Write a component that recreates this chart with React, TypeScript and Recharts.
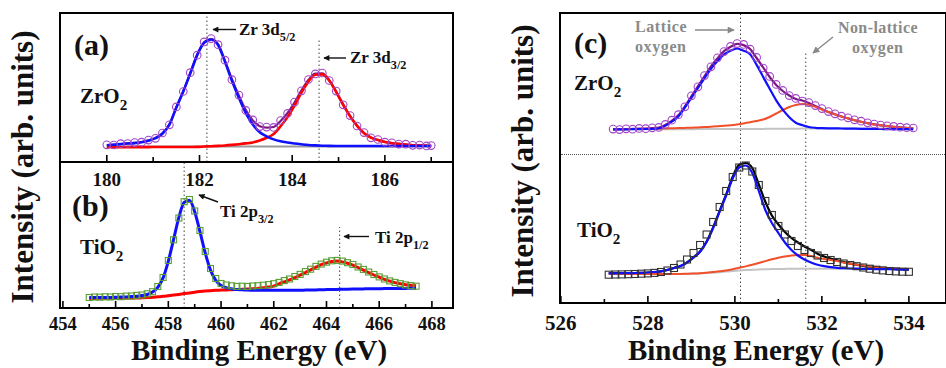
import { ComposedChart, Line, XAxis, YAxis, ReferenceLine } from "recharts";

const SERIF = '"Liberation Serif", "Times New Roman", serif';

// (a) Zr 3d, ZrO2
const zrEnergy = [180, 180.15, 180.3, 180.45, 180.6, 180.75, 180.9, 181.05, 181.2, 181.35, 181.5, 181.65, 181.8, 181.95, 182.1, 182.25, 182.4, 182.55, 182.7, 182.85, 183, 183.15, 183.3, 183.45, 183.6, 183.75, 183.9, 184.05, 184.2, 184.35, 184.5, 184.65, 184.8, 184.95, 185.1, 185.25, 185.4, 185.55, 185.7, 185.85, 186, 186.15, 186.3, 186.45, 186.6, 186.75, 186.9, 187];
const zrCounts = [17.2, 17.0, 18.3, 18.5, 19.4, 19.8, 21.9, 23.7, 29.0, 37.2, 55.1, 70.5, 89.3, 106.8, 120.1, 123.4, 117.3, 101.8, 82.3, 66.9, 51.6, 42.1, 35.4, 34.9, 34.6, 41.5, 48.6, 59.9, 71.2, 82.5, 88.1, 89.0, 81.5, 70.9, 57.2, 46.4, 36.0, 29.4, 24.2, 22.5, 19.8, 19.2, 17.9, 17.8, 16.7, 16.9, 16.1, 16.4];
const zrFit52 = [16.8, 17.2, 17.9, 18.5, 18.9, 19.8, 21.3, 23.8, 28.3, 37.3, 54.4, 70.6, 88.5, 106.9, 119.2, 122.5, 117.0, 100.2, 81.2, 64.1, 48.8, 37.5, 29.8, 25.7, 22.6, 20.7, 19.5, 18.5, 17.7, 17.0, 16.6, 16.3, 16.1, 16.0, 16.0, 16.0, 16.0, 16.0, 16.0, 16.0, 16.0, 16.0, 16.0, 16.0, 16.0, 16.0, 16.0, 16.0];
const zrFit32 = [14.8, 14.8, 14.8, 14.85, 14.85, 14.9, 14.9, 14.95, 14.95, 15.0, 15.0, 15.0, 15.05, 15.1, 15.5, 15.8, 16.1, 16.5, 17.1, 17.8, 18.6, 19.6, 21.5, 24.2, 27.9, 35.7, 44.9, 56.4, 69.3, 80.4, 87.3, 87.6, 81.3, 69.9, 57.2, 45.7, 36.1, 28.8, 24.4, 21.9, 19.9, 18.8, 18.1, 17.4, 16.8, 16.5, 16.2, 16.0];
const zrEnvelope = [17.0, 17.3, 18.0, 18.7, 19.1, 20.0, 21.6, 24.0, 28.6, 37.6, 54.7, 70.9, 88.8, 107.2, 119.6, 123.0, 117.8, 101.2, 82.8, 66.4, 52.0, 41.6, 35.8, 34.4, 35.0, 41.0, 49.0, 59.5, 71.6, 82.0, 88.5, 88.6, 81.9, 70.4, 57.6, 46.0, 36.4, 29.0, 24.6, 22.1, 20.1, 18.9, 18.2, 17.5, 16.9, 16.6, 16.3, 16.1];
const zrBaseline = 15.6;
const zrTicks = [180, 181, 182, 183, 184, 185, 186, 187];
const zrTickLabels = [180, 182, 184, 186];

// (b) Ti 2p, TiO2
const tiEnergy = [455, 455.2, 455.4, 455.6, 455.8, 456, 456.2, 456.4, 456.6, 456.8, 457, 457.2, 457.4, 457.6, 457.8, 458, 458.2, 458.4, 458.6, 458.8, 459, 459.2, 459.4, 459.6, 459.8, 460, 460.2, 460.4, 460.6, 460.8, 461, 461.2, 461.4, 461.6, 461.8, 462, 462.2, 462.4, 462.6, 462.8, 463, 463.2, 463.4, 463.6, 463.8, 464, 464.2, 464.4, 464.6, 464.8, 465, 465.2, 465.4, 465.6, 465.8, 466, 466.2, 466.4, 466.6, 466.8, 467, 467.2, 467.4];
const tiCounts = [10.5, 11.0, 10.8, 11.2, 11.0, 11.5, 11.3, 11.9, 12.0, 12.6, 13.0, 14.2, 16.3, 21.5, 30.5, 47.5, 68.2, 90.0, 106.3, 108.5, 97.0, 77.5, 56.5, 39.5, 29.5, 24.5, 23.0, 22.2, 21.6, 21.8, 21.5, 22.0, 22.3, 22.8, 23.4, 24.3, 25.6, 27.4, 29.0, 31.5, 33.6, 36.4, 38.8, 41.6, 43.9, 45.8, 47.2, 47.6, 46.9, 45.3, 43.5, 41.0, 38.6, 36.0, 33.5, 31.1, 29.0, 27.1, 25.6, 24.3, 23.1, 22.4, 21.8];
const tiFit32 = [10.4, 10.4, 10.5, 10.6, 10.6, 10.8, 10.9, 11.1, 11.4, 11.8, 12.4, 13.5, 15.9, 20.7, 30.1, 46.9, 68.6, 90.7, 105.6, 107.8, 96.3, 76.3, 55.0, 37.9, 27.7, 22.5, 20.3, 19.2, 18.4, 18.2, 17.9, 17.8, 17.7, 17.7, 17.7, 17.7, 17.7, 17.8, 17.8, 17.8, 17.8, 17.9, 18.0, 18.1, 18.3, 18.4, 18.5, 18.6, 18.7, 18.8, 18.9, 19.0, 19.1, 19.2, 19.2, 19.3, 19.4, 19.4, 19.5, 19.5, 19.6, 19.7, 19.7];
const tiFit12 = [9.6, 9.6, 9.7, 9.7, 9.7, 9.8, 9.8, 9.9, 9.9, 10.0, 10.2, 10.4, 10.7, 11.2, 11.7, 12.3, 12.9, 13.6, 14.4, 15.1, 15.8, 16.4, 16.9, 17.3, 17.7, 17.9, 18.1, 18.35, 18.5, 18.7, 18.9, 19.2, 19.6, 20.2, 20.9, 21.9, 24.2, 26.05, 28.1, 30.45, 32.8, 35.5, 38.2, 40.8, 43.35, 45.05, 46.4, 47.0, 46.1, 44.7, 42.8, 40.4, 37.9, 35.45, 33.0, 30.8, 28.65, 26.9, 25.35, 24.2, 23.3, 22.75, 22.3];
const tiTicks = [454, 455, 456, 457, 458, 459, 460, 461, 462, 463, 464, 465, 466, 467, 468];
const tiTickLabels = [454, 456, 458, 460, 462, 464, 466, 468];

// (c) O 1s, upper ZrO2
const zrOxEnergy = [527.2, 527.35, 527.5, 527.65, 527.8, 527.95, 528.1, 528.25, 528.4, 528.55, 528.7, 528.85, 529, 529.15, 529.3, 529.45, 529.6, 529.75, 529.9, 530.05, 530.2, 530.35, 530.5, 530.65, 530.8, 530.95, 531.1, 531.25, 531.4, 531.55, 531.7, 531.85, 532, 532.15, 532.3, 532.45, 532.6, 532.75, 532.9, 533.05, 533.2, 533.35, 533.5, 533.65, 533.8, 533.95, 534.1];
const zrOxCounts = [25.9, 25.4, 26.2, 25.8, 26.6, 26.3, 27.2, 27.6, 30.6, 34.8, 40.3, 48.2, 59.2, 68.2, 79.4, 88.2, 97.2, 103.4, 108.6, 111.4, 110.6, 105.8, 97.6, 87.0, 78.6, 70.6, 64.6, 59.4, 56.6, 54.0, 52.4, 49.4, 46.4, 43.4, 41.2, 38.8, 37.2, 35.2, 33.8, 32.2, 31.0, 30.0, 29.2, 28.6, 27.8, 27.3, 27.0];
const zrOxLattice = [25.7, 25.7, 25.7, 25.8, 25.9, 26.0, 26.2, 26.6, 29.3, 33.3, 38.6, 47.3, 57.1, 66.9, 76.7, 86.2, 93.9, 100.6, 104.3, 106.5, 104.3, 100.7, 90.1, 78.1, 66.2, 54.7, 45.3, 37.8, 32.3, 29.9, 28.0, 27.2, 26.9, 26.7, 26.6, 26.5, 26.4, 26.3, 26.2, 26.1, 26.0, 26.0, 25.9, 25.9, 25.8, 25.8, 25.7];
const zrOxNonLattice = [25.7, 25.8, 25.9, 26.0, 26.1, 26.2, 26.3, 26.4, 26.5, 26.7, 26.9, 27.1, 27.3, 27.6, 27.9, 28.3, 28.7, 29.2, 29.8, 30.6, 31.6, 32.8, 34.0, 35.5, 38.0, 41.5, 45.0, 48.0, 50.0, 51.0, 50.3, 48.2, 45.5, 42.8, 40.7, 38.5, 36.6, 34.8, 33.2, 31.8, 30.6, 29.7, 28.9, 28.2, 27.6, 27.1, 26.7];
const zrOxEnvelope = [25.7, 25.8, 25.9, 26.1, 26.3, 26.5, 26.8, 27.3, 30.0, 34.2, 39.7, 48.6, 58.6, 68.6, 78.7, 88.6, 96.7, 103.8, 108.1, 111.1, 109.9, 106.0, 97.0, 87.5, 78.0, 70.0, 64.0, 59.5, 56.0, 54.5, 51.9, 49.0, 45.9, 42.9, 40.8, 38.5, 36.6, 34.8, 33.2, 31.8, 30.6, 29.7, 28.9, 28.2, 27.6, 27.1, 26.7];
const zrOxBackground = [25.7, 25.7, 25.7, 25.7, 25.7, 25.7, 25.7, 25.7, 25.8, 25.8, 25.8, 25.8, 25.8, 25.9, 25.9, 25.9, 25.9, 26.0, 26.0, 26.0, 26.0, 26.1, 26.1, 26.1, 26.2, 26.2, 26.3, 26.3, 26.3, 26.4, 26.4, 26.4, 26.5, 26.5, 26.5, 26.5, 26.5, 26.5, 26.5, 26.5, 26.5, 26.5, 26.5, 26.5, 26.5, 26.5, 26.5];

// (c) O 1s, lower TiO2
const tiOxEnergy = [527.1, 527.25, 527.4, 527.55, 527.7, 527.85, 528, 528.15, 528.3, 528.45, 528.6, 528.75, 528.9, 529.05, 529.2, 529.35, 529.5, 529.65, 529.8, 529.95, 530.1, 530.25, 530.4, 530.55, 530.7, 530.85, 531, 531.15, 531.3, 531.45, 531.6, 531.75, 531.9, 532.05, 532.2, 532.35, 532.5, 532.65, 532.8, 532.95, 533.1, 533.25, 533.4, 533.55, 533.7, 533.85, 534];
const tiOxCounts = [28.3, 28.5, 28.6, 28.8, 29.0, 29.3, 29.6, 30.1, 31.0, 32.5, 35.0, 38.5, 43.5, 50.0, 58.0, 68.5, 81.0, 96.0, 112.0, 126.0, 135.5, 137.5, 131.5, 118.0, 102.0, 88.0, 77.0, 68.5, 62.0, 57.0, 53.0, 50.0, 47.5, 45.0, 43.0, 41.0, 39.5, 38.0, 36.8, 35.5, 34.3, 33.3, 32.6, 32.0, 31.6, 31.3, 31.2];
const tiOxLattice = [29.6, 29.7, 29.8, 29.9, 30.0, 30.2, 30.5, 31.0, 31.7, 33.1, 35.0, 37.0, 40.5, 45.5, 51.3, 61.0, 75.0, 91.3, 107.5, 124.5, 135.5, 137.5, 130.0, 112.0, 93.0, 80.0, 70.0, 60.5, 53.0, 47.5, 43.5, 40.5, 38.3, 36.8, 35.8, 35.2, 34.8, 34.5, 34.3, 34.1, 34.0, 33.9, 33.8, 33.8, 33.7, 33.7, 33.7];
const tiOxNonLattice = [29.3, 29.2, 29.1, 29.0, 29.0, 28.9, 28.9, 28.9, 28.9, 28.9, 29.0, 29.1, 29.3, 29.5, 29.8, 30.3, 30.9, 31.7, 32.6, 33.8, 35.2, 36.6, 38.2, 40.0, 41.9, 43.7, 45.3, 46.6, 47.6, 48.1, 48.0, 47.0, 45.3, 44.0, 43.0, 41.9, 40.4, 39.2, 38.3, 37.4, 36.6, 35.9, 35.3, 34.8, 34.4, 34.1, 33.9];
const tiOxEnvelope = [29.9, 29.9, 29.9, 29.9, 30.0, 30.1, 30.4, 30.9, 31.6, 33.0, 35.0, 37.0, 40.7, 45.6, 51.5, 61.4, 75.6, 92.2, 108.7, 126.3, 138.2, 140.0, 135.0, 118.5, 101.2, 87.5, 78.5, 71.0, 65.0, 60.5, 56.5, 53.2, 49.3, 46.5, 44.5, 42.8, 40.9, 39.4, 38.3, 37.2, 36.3, 35.5, 34.8, 34.3, 33.8, 33.5, 33.3];
const tiOxBackground = [29.0, 29.0, 29.0, 29.0, 29.0, 29.0, 29.0, 29.0, 29.0, 29.0, 29.0, 29.1, 29.1, 29.4, 29.6, 29.9, 30.3, 30.8, 31.4, 32.0, 32.5, 32.9, 33.2, 33.5, 33.7, 33.9, 34.0, 34.1, 34.2, 34.2, 34.3, 34.3, 34.3, 34.3, 34.3, 34.3, 34.3, 34.3, 34.3, 34.3, 34.3, 34.3, 34.3, 34.3, 34.3, 34.3, 34.3];
const oTicks = [526, 527, 528, 529, 530, 531, 532, 533, 534];
const oTickLabels = [526, 528, 530, 532, 534];

const zrRows = zrEnergy.map((x, i) => ({ x, counts: zrCounts[i], p52: zrFit52[i], p32: zrFit32[i], env: zrEnvelope[i] }));
const tiRows = tiEnergy.map((x, i) => ({ x, counts: tiCounts[i], p32: tiFit32[i], p12: tiFit12[i] }));
const zrOxRows = zrOxEnergy.map((x, i) => ({ x, counts: zrOxCounts[i], lat: zrOxLattice[i], non: zrOxNonLattice[i], env: zrOxEnvelope[i], bg: zrOxBackground[i] }));
const tiOxRows = tiOxEnergy.map((x, i) => ({ x, counts: tiOxCounts[i], lat: tiOxLattice[i], non: tiOxNonLattice[i], env: tiOxEnvelope[i], bg: tiOxBackground[i] }));

// side padding so that edge tick labels are not clipped by the chart svg
const PAD = 30;
const chartMargin = { top: 0, right: PAD, bottom: 0, left: PAD };

const tickRenderer = (labels: number[], fontSize: number, labelDy: number, majorLen: number, minorLen: number) => (props: any) => {
  const { x, y, payload } = props;
  const major = labels.includes(payload.value);
  return (
    <g>
      <line x1={x} x2={x} y1={y} y2={y - (major ? majorLen : minorLen)} stroke="#000" strokeWidth={1.6} />
      {major ? (
        <text x={x} y={y + labelDy} textAnchor="middle" fontSize={fontSize} fontWeight="bold" fontFamily={SERIF} fill="#111">
          {payload.value}
        </text>
      ) : null}
    </g>
  );
};

const circleDot = (color: string) => (p: any) => (
  <circle key={`c-${p.index}`} cx={p.cx} cy={p.cy} r={3.8} fill="none" stroke={color} strokeWidth={1.1} />
);
const squareDot = (color: string, size: number) => (p: any) => (
  <rect key={`s-${p.index}`} x={p.cx - size / 2} y={p.cy - size / 2} width={size} height={size} fill="none" stroke={color} strokeWidth={1.1} />
);

const dotted = { stroke: "#444", strokeWidth: 1, strokeDasharray: "1.5 2.5" };

const Box = ({ left, top, width, height }: { left: number; top: number; width: number; height: number }) => (
  <div style={{ position: "absolute", left, top, width, height, border: "2px solid #000", boxSizing: "border-box", pointerEvents: "none" }} />
);

const Formula = ({ x, y, base, sub, size }: { x: number; y: number; base: string; sub: string; size: number }) => (
  <text x={x} y={y} fontSize={size} fontWeight="bold" fill="#111">
    {base}
    <tspan fontSize={size * 0.72} dy={size * 0.33}>{sub}</tspan>
  </text>
);

export default function App() {
  return (
    <div style={{ position: "absolute", left: 0, top: 0, width: 946, height: 368, background: "#fff", overflow: "hidden", fontFamily: SERIF }}>
      {/* (a) */}
      <div style={{ position: "absolute", left: 60 - PAD, top: 13 }}>
        <ComposedChart width={393 + 2 * PAD} height={179} data={zrRows} margin={chartMargin}>
          <XAxis type="number" dataKey="x" domain={[178.99, 187.47]} ticks={zrTicks} interval={0} height={30} axisLine={false} tickLine={false} tickSize={0} tickMargin={0} allowDataOverflow tick={tickRenderer(zrTickLabels, 19, 24, 7, 5)} />
          <YAxis type="number" hide domain={[0, 149]} allowDataOverflow />
          <ReferenceLine segment={[{ x: 182.16, y: 0 }, { x: 182.16, y: 149 }]} {...dotted} />
          <ReferenceLine segment={[{ x: 184.58, y: 0 }, { x: 184.58, y: 123 }]} {...dotted} />
          <ReferenceLine segment={[{ x: 180, y: zrBaseline }, { x: 187, y: zrBaseline }]} stroke="#999" strokeWidth={2} />
          <Line dataKey="counts" stroke="none" dot={circleDot("#a244c8")} activeDot={false} isAnimationActive={false} />
          <Line type="monotone" dataKey="env" stroke="#7a1a80" strokeWidth={2.2} dot={false} activeDot={false} isAnimationActive={false} />
          <Line type="monotone" dataKey="p32" stroke="#ff0000" strokeWidth={2.6} dot={false} activeDot={false} isAnimationActive={false} />
          <Line type="monotone" dataKey="p52" stroke="#1010ff" strokeWidth={2.6} dot={false} activeDot={false} isAnimationActive={false} />
        </ComposedChart>
      </div>

      {/* (b) */}
      <div style={{ position: "absolute", left: 60 - PAD, top: 162 }}>
        <ComposedChart width={393 + 2 * PAD} height={176} data={tiRows} margin={chartMargin}>
          <XAxis type="number" dataKey="x" domain={[453.89, 468.8]} ticks={tiTicks} interval={0} height={30} axisLine={false} tickLine={false} tickSize={0} tickMargin={0} allowDataOverflow tick={tickRenderer(tiTickLabels, 18.5, 22, 7, 4)} />
          <YAxis type="number" hide domain={[0, 146]} allowDataOverflow />
          <ReferenceLine segment={[{ x: 458.6, y: 0 }, { x: 458.6, y: 146 }]} {...dotted} />
          <ReferenceLine segment={[{ x: 464.5, y: 0 }, { x: 464.5, y: 81 }]} {...dotted} />
          <Line dataKey="counts" stroke="none" dot={squareDot("#5a9e34", 6)} activeDot={false} isAnimationActive={false} />
          <Line type="monotone" dataKey="p12" stroke="#ff0000" strokeWidth={3} dot={false} activeDot={false} isAnimationActive={false} />
          <Line type="monotone" dataKey="p32" stroke="#1010ff" strokeWidth={3} dot={false} activeDot={false} isAnimationActive={false} />
        </ComposedChart>
      </div>

      {/* (c) upper */}
      <div style={{ position: "absolute", left: 560 - PAD, top: 13 }}>
        <ComposedChart width={385 + 2 * PAD} height={142} data={zrOxRows} margin={chartMargin}>
          <XAxis type="number" dataKey="x" hide domain={[525.98, 534.83]} allowDataOverflow />
          <YAxis type="number" hide domain={[0, 142]} allowDataOverflow />
          <ReferenceLine segment={[{ x: 530.13, y: 0 }, { x: 530.13, y: 142 }]} {...dotted} />
          <ReferenceLine segment={[{ x: 531.63, y: 0 }, { x: 531.63, y: 103 }]} {...dotted} />
          <Line dataKey="counts" stroke="none" dot={circleDot("#a244c8")} activeDot={false} isAnimationActive={false} />
          <Line type="monotone" dataKey="bg" stroke="#c4c4c4" strokeWidth={2} dot={false} activeDot={false} isAnimationActive={false} />
          <Line type="monotone" dataKey="env" stroke="#7a1a80" strokeWidth={2.2} dot={false} activeDot={false} isAnimationActive={false} />
          <Line type="monotone" dataKey="non" stroke="#f0502a" strokeWidth={2} dot={false} activeDot={false} isAnimationActive={false} />
          <Line type="monotone" dataKey="lat" stroke="#1010ff" strokeWidth={2.2} dot={false} activeDot={false} isAnimationActive={false} />
        </ComposedChart>
      </div>

      {/* (c) lower */}
      <div style={{ position: "absolute", left: 560 - PAD, top: 155 }}>
        <ComposedChart width={385 + 2 * PAD} height={183} data={tiOxRows} margin={chartMargin}>
          <XAxis type="number" dataKey="x" domain={[525.98, 534.83]} ticks={oTicks} interval={0} height={35} axisLine={false} tickLine={false} tickSize={0} tickMargin={0} allowDataOverflow tick={tickRenderer(oTickLabels, 21, 27, 7, 4)} />
          <YAxis type="number" hide domain={[0, 148]} allowDataOverflow />
          <ReferenceLine segment={[{ x: 530.13, y: 0 }, { x: 530.13, y: 148 }]} {...dotted} />
          <ReferenceLine segment={[{ x: 531.63, y: 0 }, { x: 531.63, y: 148 }]} {...dotted} />
          <Line dataKey="counts" stroke="none" dot={squareDot("#333", 7)} activeDot={false} isAnimationActive={false} />
          <Line type="monotone" dataKey="bg" stroke="#c4c4c4" strokeWidth={2} dot={false} activeDot={false} isAnimationActive={false} />
          <Line type="monotone" dataKey="env" stroke="#000" strokeWidth={2.2} dot={false} activeDot={false} isAnimationActive={false} />
          <Line type="monotone" dataKey="non" stroke="#f0502a" strokeWidth={2} dot={false} activeDot={false} isAnimationActive={false} />
          <Line type="monotone" dataKey="lat" stroke="#1010ff" strokeWidth={2.2} dot={false} activeDot={false} isAnimationActive={false} />
        </ComposedChart>
      </div>

      <Box left={59} top={12} width={395} height={151} />
      <Box left={59} top={161} width={395} height={148} />
      <Box left={559} top={12} width={388} height={292} />
      <div style={{ position: "absolute", left: 561, top: 154, width: 384, borderTop: "1.5px dotted #555" }} />

      <svg width={946} height={368} style={{ position: "absolute", left: 0, top: 0, pointerEvents: "none" }} fontFamily={SERIF}>
        <defs>
          <marker id="ah" viewBox="0 0 10 10" refX="9" refY="5" markerUnits="userSpaceOnUse" markerWidth="8" markerHeight="6" orient="auto">
            <path d="M0,0 L10,5 L0,10 z" fill="#111" />
          </marker>
          <marker id="ahg" viewBox="0 0 10 10" refX="9" refY="5" markerUnits="userSpaceOnUse" markerWidth="9" markerHeight="7" orient="auto">
            <path d="M0,0 L10,5 L0,10 z" fill="#888" />
          </marker>
        </defs>

        <text x={74} y={55} fontSize={30} fontWeight="bold" fill="#111">(a)</text>
        <Formula x={80} y={103} base="ZrO" sub="2" size={21} />
        <Formula x={239} y={35} base="Zr 3d" sub="5/2" size={17} />
        <line x1={236} y1={29.5} x2={213} y2={29.5} stroke="#111" strokeWidth={1.4} markerEnd="url(#ah)" />
        <Formula x={350} y={63} base="Zr 3d" sub="3/2" size={17} />
        <line x1={346} y1={58} x2={324} y2={58} stroke="#111" strokeWidth={1.4} markerEnd="url(#ah)" />

        <text x={72} y={216} fontSize={30} fontWeight="bold" fill="#111">(b)</text>
        <Formula x={80} y={254} base="TiO" sub="2" size={21} />
        <Formula x={220} y={217} base="Ti 2p" sub="3/2" size={17} />
        <line x1={218} y1={202} x2={199} y2={195} stroke="#111" strokeWidth={1.4} markerEnd="url(#ah)" />
        <Formula x={375} y={243} base="Ti 2p" sub="1/2" size={17} />
        <line x1={369} y1={236.5} x2={344} y2={236.5} stroke="#111" strokeWidth={1.4} markerEnd="url(#ah)" />

        <text x={574} y={53} fontSize={30} fontWeight="bold" fill="#111">(c)</text>
        <Formula x={574} y={90} base="ZrO" sub="2" size={21} />
        <text x={635} y={32} fontSize={16} fontWeight="bold" fill="#8a8a8a" letterSpacing={0.6}>Lattice</text>
        <text x={635} y={52} fontSize={16} fontWeight="bold" fill="#8a8a8a" letterSpacing={0.6}>oxygen</text>
        <line x1={695} y1={30} x2={734} y2={30} stroke="#888" strokeWidth={1.5} markerEnd="url(#ahg)" />
        <text x={838} y={33} fontSize={16} fontWeight="bold" fill="#8a8a8a" letterSpacing={0.4}>Non-lattice</text>
        <text x={852} y={53} fontSize={16} fontWeight="bold" fill="#8a8a8a" letterSpacing={0.6}>oxygen</text>
        <line x1={833} y1={37} x2={813} y2={53} stroke="#888" strokeWidth={1.5} markerEnd="url(#ahg)" />
        <Formula x={577} y={237} base="TiO" sub="2" size={21} />

        <text transform="translate(33,167) rotate(-90)" textAnchor="middle" fontSize={31} fontWeight="bold" fill="#111">Intensity (arb. units)</text>
        <text transform="translate(533,161) rotate(-90)" textAnchor="middle" fontSize={31} fontWeight="bold" fill="#111">Intensity (arb. units)</text>
        <text x={259} y={360} textAnchor="middle" fontSize={29} fontWeight="bold" fill="#111">Binding Energy (eV)</text>
        <text x={756} y={360} textAnchor="middle" fontSize={29} fontWeight="bold" fill="#111">Binding Energy (eV)</text>
      </svg>
    </div>
  );
}
